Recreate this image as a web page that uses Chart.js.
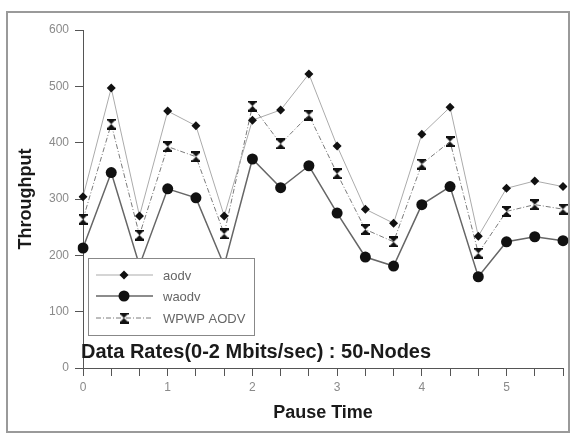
<!DOCTYPE html>
<html>
<head>
<meta charset="utf-8">
<script src="https://cdn.jsdelivr.net/npm/chart.js@4/dist/chart.umd.min.js"></script>
<style>
  html, body { margin: 0; padding: 0; background: #fff; }
  #wrap { width: 572px; height: 434px; position: relative; }
</style>
</head>
<body>
<div id="wrap"><canvas id="c" width="572" height="434"></canvas></div>
<script>
// ── data ──
const pauseTime = ['0', '0.33', '0.67', '1', '1.33', '1.67', '2', '2.33', '2.67',
                   '3', '3.33', '3.67', '4', '4.33', '4.67', '5', '5.33', '5.67'];
const aodv  = [304, 497, 270, 456, 430, 270, 440, 458, 522, 394, 282, 257, 415, 463, 234, 319, 332, 322];
const waodv = [213, 347, 182, 318, 302, 182, 371, 320, 359, 275, 197, 181, 290, 322, 162, 224, 233, 226];
const wpwp  = [264, 433, 236, 393, 375, 238, 465, 398, 449, 345, 246, 224, 362, 402, 204, 278, 290, 282];
const yTicks = [0, 100, 200, 300, 400, 500, 600];
const caption = 'Data Rates(0-2 Mbits/sec) : 50-Nodes';

// hourglass marker for WPWP AODV
function hourglass() {
    const cv = document.createElement('canvas');
    cv.width = 9; cv.height = 11;
    const g = cv.getContext('2d');
    g.fillStyle = '#111';
    g.fillRect(0, 0, 9, 2);
    g.fillRect(0, 9, 9, 2);
    g.beginPath(); g.moveTo(1, 2); g.lineTo(8, 2); g.lineTo(4.5, 5.5); g.closePath(); g.fill();
    g.beginPath(); g.moveTo(1, 9); g.lineTo(8, 9); g.lineTo(4.5, 5.5); g.closePath(); g.fill();
    return cv;
}
const hg = hourglass();

// frame, caption, legend box
const extras = {
    id: 'extras',
    beforeDraw(chart) {
        const ctx = chart.ctx;
        ctx.save();
        ctx.strokeStyle = '#9a9a9a';
        ctx.lineWidth = 2;
        ctx.strokeRect(7, 12, 562, 420);
        ctx.restore();
    },
    afterDatasetsDraw(chart) {
        const ctx = chart.ctx;
        ctx.save();
        // legend
        const bx = 88, by = 258, bw = 166, bh = 77;
        ctx.fillStyle = '#fff';
        ctx.fillRect(bx, by, bw, bh);
        ctx.strokeStyle = '#888';
        ctx.lineWidth = 1;
        ctx.strokeRect(bx + 0.5, by + 0.5, bw, bh);
        const rows = [275, 296, 318];
        chart.data.datasets.forEach((ds, i) => {
            const y = rows[i];
            ctx.strokeStyle = ds.borderColor;
            ctx.lineWidth = ds.borderWidth;
            ctx.setLineDash(ds.borderDash || []);
            ctx.beginPath(); ctx.moveTo(96, y); ctx.lineTo(153, y); ctx.stroke();
            ctx.setLineDash([]);
            ctx.fillStyle = '#111';
            if (ds.pointStyle === 'rectRot') {
                const r = ds.pointRadius;
                ctx.beginPath();
                ctx.moveTo(124, y - r); ctx.lineTo(124 + r, y); ctx.lineTo(124, y + r); ctx.lineTo(124 - r, y);
                ctx.closePath(); ctx.fill();
            } else if (ds.pointStyle === 'circle') {
                ctx.beginPath(); ctx.arc(124, y, ds.pointRadius, 0, Math.PI * 2); ctx.fill();
            } else {
                ctx.drawImage(hg, 124 - 4.5, y - 5.5);
            }
            ctx.fillStyle = '#666';
            ctx.font = '13px "Liberation Sans", Arial, sans-serif';
            ctx.textBaseline = 'middle';
            ctx.fillText(ds.label, 163, y + 1);
        });
        ctx.restore();
    },
    afterDraw(chart) {
        const ctx = chart.ctx;
        ctx.save();
        ctx.fillStyle = '#1a1a1a';
        ctx.font = 'bold 20px "Liberation Sans", Arial, sans-serif';
        ctx.textBaseline = 'middle';
        ctx.fillText(caption, 81, 352);
        ctx.restore();
    }
};

const tickFont = { family: '"Liberation Sans", Arial, sans-serif', size: 12 };
const titleFont = { family: '"Liberation Sans", Arial, sans-serif', size: 18, weight: 'bold' };

new Chart(document.getElementById('c'), {
    type: 'line',
    data: {
        labels: pauseTime,
        datasets: [
            {
                label: 'aodv', data: aodv,
                borderColor: '#ababab', borderWidth: 1,
                pointStyle: 'rectRot', pointRadius: 4.5,
                pointBackgroundColor: '#111', pointBorderColor: '#111', pointBorderWidth: 0,
                tension: 0
            },
            {
                label: 'waodv', data: waodv,
                borderColor: '#666', borderWidth: 1.5,
                pointStyle: 'circle', pointRadius: 5.5,
                pointBackgroundColor: '#111', pointBorderColor: '#111', pointBorderWidth: 0,
                tension: 0
            },
            {
                label: 'WPWP AODV', data: wpwp,
                borderColor: '#7a7a7a', borderWidth: 1, borderDash: [5, 2, 1, 2],
                pointStyle: hg, pointRadius: 5,
                tension: 0
            }
        ]
    },
    options: {
        responsive: false, animation: false,
        layout: { padding: { top: 30, right: 9, bottom: 0, left: 0 } },
        plugins: { legend: { display: false }, tooltip: { enabled: false } },
        scales: {
            x: {
                offset: false,
                afterFit: s => { s.height = 66; },
                border: { color: '#555', width: 1 },
                grid: { drawOnChartArea: false, offset: false, tickLength: 8, color: '#555' },
                ticks: {
                    autoSkip: false, maxRotation: 0, padding: 4,
                    color: '#8a8a8a', font: tickFont,
                    callback: (v, i) => (i % 3 === 0 ? String(i / 3) : '')
                },
                title: {
                    display: true, text: 'Pause Time', color: '#1a1a1a',
                    font: titleFont, padding: { top: 0, bottom: 10 }
                }
            },
            y: {
                min: 0, max: 600,
                afterFit: s => { s.width = 83; },
                afterBuildTicks: s => { s.ticks = yTicks.map(v => ({ value: v })); },
                border: { color: '#555', width: 1 },
                grid: { drawOnChartArea: false, tickLength: 8, color: '#555' },
                ticks: { padding: 6, color: '#8a8a8a', font: tickFont },
                title: {
                    display: true, text: 'Throughput', color: '#1a1a1a',
                    font: titleFont, padding: { top: 15, bottom: 0 }
                }
            }
        }
    },
    plugins: [extras]
});
</script>
</body>
</html>
